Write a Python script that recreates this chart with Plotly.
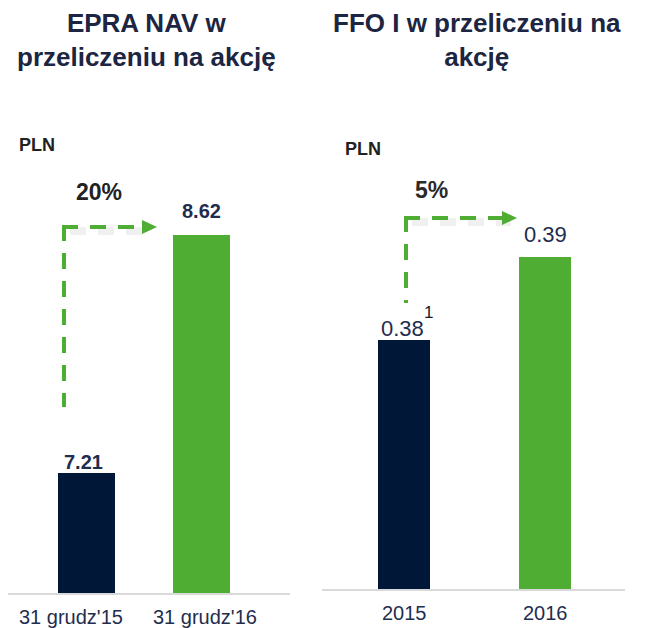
import plotly.graph_objects as go

# page body adds an 8px margin; draw in reference pixel coords shifted by OFF
OFF = 8
W, H = 645 - OFF, 628 - OFF

# ---- data ----
nav_categories = ["31 grudz'15", "31 grudz'16"]
nav_values = [7.21, 8.62]
nav_labels = ["7.21", "8.62"]
nav_change = "20%"

ffo_categories = ["2015", "2016"]
ffo_values = [0.38, 0.39]
ffo_labels = ["0.38", "0.39"]
ffo_change = "5%"

titles = ["EPRA NAV w<br>przeliczeniu na akcję", "FFO I w przeliczeniu na<br>akcję"]
unit = "PLN"

DARK = "#011737"
GREEN = "#4fad33"
NAVY_TXT = "#1f2d4f"
TITLE_C = "#1c2541"
FONT = "Liberation Sans"


def px(x):
    return (x - OFF) / W


def py(y):
    return 1 - (y - OFF) / H


fig = go.Figure()
fig.add_trace(go.Bar(x=[0, 1], y=nav_values, marker=dict(color=[DARK, GREEN], line=dict(width=0)),
                     width=0.496, xaxis="x", yaxis="y", hoverinfo="skip"))
fig.add_trace(go.Bar(x=[0, 1], y=ffo_values, marker=dict(color=[DARK, GREEN], line=dict(width=0)),
                     width=0.369, xaxis="x2", yaxis="y2", hoverinfo="skip"))

axis_common = dict(showgrid=False, zeroline=False, ticks="", showticklabels=False, fixedrange=True)
x_left0 = 8  # reference axis starts at ~2px, clipped by page margin
fig.update_layout(
    width=W, height=H, margin=dict(l=0, r=0, t=0, b=0),
    paper_bgcolor="white", plot_bgcolor="white", showlegend=False, bargap=0,
    font=dict(family=FONT),
    xaxis=dict(domain=[px(x_left0), px(290)], range=[(x_left0 - 86.5) / 115, 1.770], showline=True,
               linecolor="#d9d9d9", linewidth=2, layer="below traces", **axis_common),
    yaxis=dict(domain=[py(593), py(120)], range=[6.5, 6.5 + (593 - 120) / 168.8],
               showline=False, **axis_common),
    xaxis2=dict(domain=[px(322), px(625)], range=[-0.582, 1.567], showline=True,
                linecolor="#d9d9d9", linewidth=2, layer="below traces", anchor="y2", **axis_common),
    yaxis2=dict(domain=[py(589), py(120)], range=[0.35, 0.35 + (589 - 120) / 8300],
                anchor="x2", showline=False, **axis_common),
)

ann = []
# titles
for t, cx in zip(titles, [146, 477]):
    ann.append(dict(text=t, x=px(cx), y=py(40), xref="paper", yref="paper", showarrow=False,
                    xanchor="center", yanchor="middle", align="center",
                    font=dict(size=26, color=TITLE_C, family=FONT, weight="bold")))
# unit labels
for ux, uy in [(37, 145), (363, 149)]:
    ann.append(dict(text="<b>" + unit + "</b>", x=px(ux), y=py(uy), xref="paper", yref="paper",
                    showarrow=False, xanchor="center", yanchor="middle",
                    font=dict(size=18, color="#222222", family=FONT)))
# change labels
ann.append(dict(text="<b>" + nav_change + "</b>", x=px(99), y=py(192), xref="paper", yref="paper",
                showarrow=False, xanchor="center", yanchor="middle",
                font=dict(size=23, color="#222222", family=FONT)))
ann.append(dict(text="<b>" + ffo_change + "</b>", x=px(431), y=py(190), xref="paper", yref="paper",
                showarrow=False, xanchor="center", yanchor="middle",
                font=dict(size=23, color="#2a2a2a", family=FONT)))

# value labels
nav_shift = [(-3, 11), (0, 24)]
for i, (v, lab) in enumerate(zip(nav_values, nav_labels)):
    ann.append(dict(text="<b>" + lab + "</b>", x=i, y=v, xref="x", yref="y", showarrow=False,
                    xanchor="center", yanchor="middle", xshift=nav_shift[i][0], yshift=nav_shift[i][1],
                    font=dict(size=20, color=NAVY_TXT, family=FONT)))
ffo_shift = [(-2, 12), (0, 23)]
for i, (v, lab) in enumerate(zip(ffo_values, ffo_labels)):
    ann.append(dict(text=lab, x=i, y=v, xref="x2", yref="y2", showarrow=False,
                    xanchor="center", yanchor="middle", xshift=ffo_shift[i][0], yshift=ffo_shift[i][1],
                    font=dict(size=22, color=NAVY_TXT, family=FONT)))
# footnote superscript
ann.append(dict(text="1", x=0, y=ffo_values[0], xref="x2", yref="y2", showarrow=False,
                xanchor="center", yanchor="middle", xshift=24, yshift=28,
                font=dict(size=17, color="#1a1a2a", family=FONT)))

# category labels
nav_cat_shift = [-15, 4]
for i, c in enumerate(nav_categories):
    ann.append(dict(text=c, x=i, y=py(617), xref="x", yref="paper", showarrow=False,
                    xanchor="center", yanchor="middle", xshift=nav_cat_shift[i],
                    font=dict(size=20, color=NAVY_TXT, family=FONT)))
for i, c in enumerate(ffo_categories):
    ann.append(dict(text=c, x=i, y=py(613), xref="x2", yref="paper", showarrow=False,
                    xanchor="center", yanchor="middle",
                    font=dict(size=20, color=NAVY_TXT, family=FONT)))
fig.update_layout(annotations=ann)

# dashed growth arrows (corner -> down, corner -> right)
shapes = []


def arrow(cx, cy, bottom, head_x):
    dash = "16px,12px"
    # soft shadow under horizontal segment
    shapes.append(dict(type="line", xref="paper", yref="paper", x0=px(cx + 6), y0=py(cy + 4),
                       x1=px(head_x - 6), y1=py(cy + 4),
                       line=dict(color="rgba(0,0,0,0.06)", width=8, dash=dash)))
    shapes.append(dict(type="line", xref="paper", yref="paper", x0=px(cx), y0=py(cy - 2),
                       x1=px(cx), y1=py(bottom), line=dict(color=GREEN, width=4, dash=dash)))
    shapes.append(dict(type="line", xref="paper", yref="paper", x0=px(cx - 2), y0=py(cy),
                       x1=px(head_x - 12), y1=py(cy), line=dict(color=GREEN, width=4, dash=dash)))
    path = "M {} {} L {} {} L {} {} Z".format(px(head_x - 15), py(cy - 7), px(head_x), py(cy),
                                              px(head_x - 15), py(cy + 7))
    shapes.append(dict(type="path", xref="paper", yref="paper", path=path,
                       fillcolor=GREEN, line=dict(color=GREEN, width=0)))


arrow(64, 227, 407, 157)
arrow(406, 218, 303, 517)
fig.update_layout(shapes=shapes)

fig.write_html("out.html")
